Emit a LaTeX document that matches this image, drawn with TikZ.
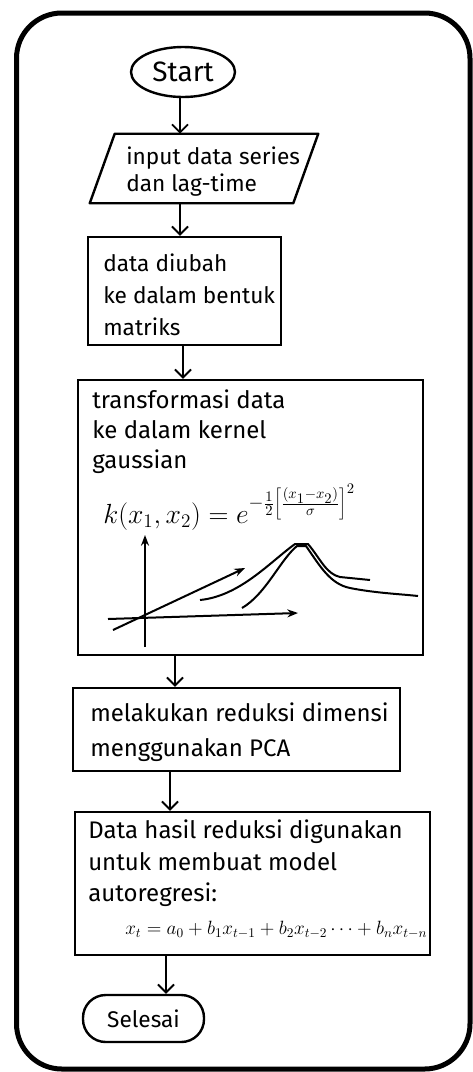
\documentclass[tikz,border=0pt]{standalone}
\usepackage{fontspec}
\setmainfont{Fira Sans}
\usetikzlibrary{shapes.geometric,arrows.meta}
\begin{document}
\begin{tikzpicture}[x=0.75pt,y=-0.75pt,
  shapeline/.style={draw, line width=1.8pt, inner sep=0pt},
  boxshape/.style={shapeline, rectangle},
  arr/.style={line width=1.4pt, -{Straight Barb[length=6pt,width=12pt,line width=1.4pt]}},
  axis/.style={line width=1.5pt, -{Stealth[length=8pt,width=6pt]}},
  curve/.style={line width=1.5pt},
  txt/.style={inner sep=0pt, anchor=west, align=left}
]
\useasboundingbox (0,0) rectangle (473,1072);
% outer frame
\draw[line width=3.75pt, rounded corners=34pt] (16.5,13) rectangle (470,1069);

% shapes
\node[shapeline, ellipse, minimum width=78pt, minimum height=37.5pt] (start) at (183,72) {};
\node[inner sep=0pt, font=\fontsize{21}{24}\selectfont] (starttxt) at (start.center) {Start};

% parallelogram: named frame node, outline drawn from its anchors
\node[inner sep=0pt, minimum width=171pt, minimum height=51.75pt] (para) at (204,168.5) {};
\draw[line width=1.8pt, line join=round] (para.south west) -- ([xshift=-18.75pt]para.south east)
  -- (para.north east) -- ([xshift=18.75pt]para.north west) -- cycle;
\node[txt, font=\fontsize{17}{20}\selectfont] (paratxt) at (126,171.5) {input data series\\dan lag-time};

\node[boxshape, minimum width=144.75pt, minimum height=81pt] (box1) at (184.5,291) {};
\node[txt, font=\fontsize{17}{24}\selectfont] (box1txt) at (103,294.5) {data diubah\\ke dalam bentuk\\matriks};

\node[boxshape, minimum width=258.75pt, minimum height=206.25pt] (box2) at (250.5,517.5) {};
\node[txt, font=\fontsize{18}{22.5}\selectfont] (box2txt) at (92,432) {transformasi data\\ke dalam kernel\\gaussian};
\node[txt, font=\fontsize{21}{24}\selectfont] (kernel) at (103,507)
  {$k(x_1,x_2)=e^{-\frac{1}{2}\left[\frac{(x_1-x_2)}{\sigma}\right]^2}$};

\node[boxshape, minimum width=245.25pt, minimum height=62.25pt] (box3) at (236.5,729.5) {};
\node[txt, font=\fontsize{18}{26}\selectfont] (box3txt) at (90,732.5) {melakukan reduksi dimensi\\menggunakan PCA};

\node[boxshape, minimum width=266.25pt, minimum height=107.25pt] (box4) at (252.5,883.5) {};
\node[txt, font=\fontsize{18}{23.5}\selectfont] (box4txt) at (88,863.5) {Data hasil reduksi digunakan\\untuk membuat model\\autoregresi:};
\node[txt, font=\fontsize{14}{17}\selectfont] (armodel) at (125,930)
  {$x_t = a_0 + b_1x_{t-1} + b_2x_{t-2} \cdots + b_nx_{t-n}$};

\node[shapeline, rectangle, rounded corners=17pt, minimum width=90.75pt, minimum height=35.25pt] (end) at (143.5,1018.5) {};
\node[inner sep=0pt, font=\fontsize{17}{20}\selectfont] (endtxt) at (end.center) {Selesai};

% connectors
\draw[arr] (180,0 |- start.south) -- (180,0 |- para.north);
\draw[arr] (180,0 |- para.south) -- (180,0 |- box1.north);
\draw[arr] (183,0 |- box1.south) -- (183,0 |- box2.north);
\draw[arr] (175,0 |- box2.south) -- (175,0 |- box3.north);
\draw[arr] (170,0 |- box3.south) -- (170,0 |- box4.north);
\draw[arr] (166,0 |- box4.south) -- (166,0 |- end.north);

% graph inside box2
\draw[axis] (145,647) -- (145,535);
\draw[axis] (108,619) -- (298,613);
\draw[axis] (113,630) -- (245,568);
\draw[curve] (200,600) .. controls (240,596) and (270,562) .. (295,544) -- (308,544)
  .. controls (320,558) and (326,574) .. (340,577) -- (370,580);
\draw[curve] (242,608) .. controls (266,594) and (280,560) .. (297,546) -- (306,546)
  .. controls (320,566) and (330,584) .. (350,588) .. controls (375,593) and (400,594) .. (418,596);
\end{tikzpicture}
\end{document}
